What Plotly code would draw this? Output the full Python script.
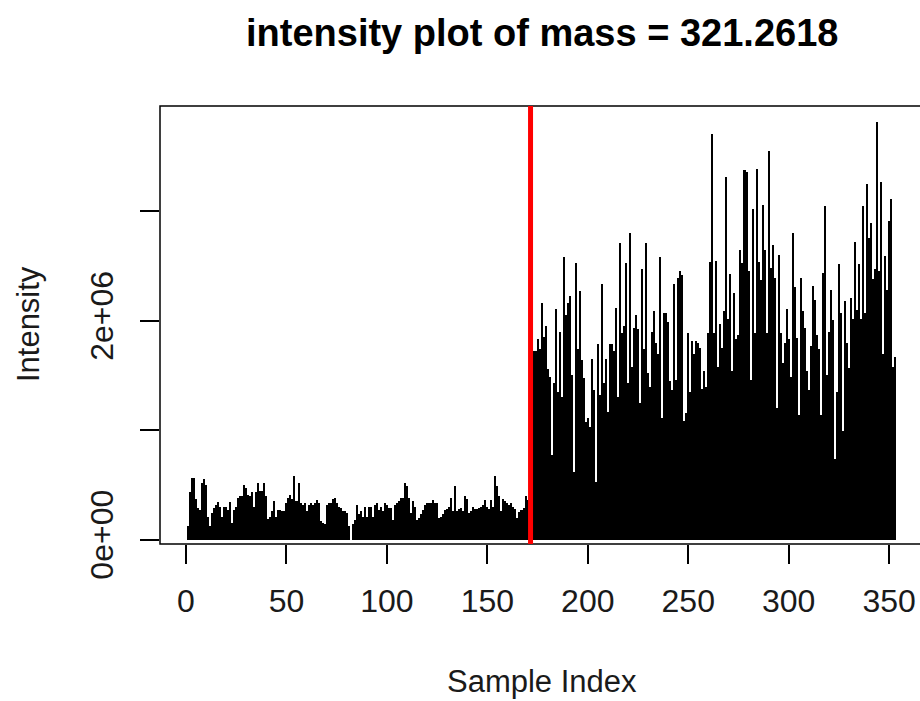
import plotly.graph_objects as go

# Intensity values (units of 1e6), by sample-index segment
intensity_001_051 = [0.12, 0.43, 0.56, 0.56, 0.37, 0.29, 0.27, 0.52, 0.55, 0.50,
                     0.21, 0.12, 0.24, 0.29, 0.32, 0.34, 0.30, 0.21, 0.30, 0.30,
                     0.27, 0.34, 0.15, 0.27, 0.30, 0.38, 0.40, 0.40, 0.50, 0.47,
                     0.41, 0.40, 0.43, 0.30, 0.43, 0.52, 0.44, 0.44, 0.52, 0.40,
                     0.19, 0.21, 0.26, 0.35, 0.21, 0.27, 0.27, 0.26, 0.26, 0.33,
                     0.38]
intensity_052_108 = [0.41, 0.37, 0.58, 0.35, 0.52, 0.33, 0.32, 0.33, 0.26, 0.32,
                     0.33, 0.32, 0.33, 0.36, 0.33, 0.17, 0.15, 0.14, 0.32, 0.33,
                     0.33, 0.37, 0.38, 0.33, 0.30, 0.29, 0.26, 0.26, 0.24, 0.12,
                     None, 0.14, 0.18, 0.32, 0.23, 0.26, 0.21, 0.30, 0.21, 0.30,
                     0.30, 0.21, 0.32, 0.33, 0.27, 0.30, 0.26, 0.33, 0.32, 0.29,
                     0.29, 0.18, 0.32, 0.33, 0.35, 0.38, 0.38]
intensity_109_169 = [0.52, 0.49, 0.38, 0.24, 0.35, 0.30, 0.18, 0.20, 0.23, 0.27,
                     0.32, 0.33, 0.33, 0.33, 0.36, 0.33, 0.33, 0.20, 0.21, 0.23,
                     0.27, 0.28, 0.30, 0.38, 0.26, 0.49, 0.26, 0.28, 0.29, 0.26,
                     0.40, 0.37, 0.24, 0.26, 0.30, 0.28, 0.28, 0.29, 0.30, 0.32,
                     0.36, 0.30, 0.28, 0.36, 0.30, 0.58, 0.49, 0.40, 0.26, 0.37,
                     0.35, 0.33, 0.32, 0.33, 0.30, 0.28, 0.20, 0.25, 0.27, 0.29,
                     0.40]
intensity_170_172 = [0.36, 0.30, 1.70]
intensity_173_216 = [1.72, 1.72, 1.83, 1.74, 2.16, 1.85, 1.95, 1.56, 1.49, 0.77,
                     1.43, 2.11, 1.35, 1.90, 1.30, 2.58, 2.05, 2.16, 2.23, 1.50,
                     0.62, 2.53, 1.74, 2.27, 1.64, 1.48, 1.07, 1.11, 1.03, 1.65,
                     1.37, 0.53, 1.79, 1.32, 2.34, 1.43, 1.65, 1.17, 1.79, 1.79,
                     1.72, 2.12, 1.30, 2.71]
intensity_217_261 = [1.89, 1.95, 2.53, 1.43, 2.80, 1.58, 1.93, 2.05, 1.92, 1.25,
                     2.47, 1.74, 2.71, 1.52, 1.39, 1.90, 2.09, 1.80, 1.70, 2.58,
                     1.11, 2.07, 2.07, 1.99, 1.45, 1.37, 2.34, 1.46, 2.39, 2.45,
                     2.42, 1.08, 1.16, 1.89, 1.35, 1.81, 1.70, 1.81, 1.80, 1.75,
                     1.38, 1.54, 1.39, 1.89, 2.54]
intensity_262_306 = [3.71, 1.89, 2.55, 1.58, 1.97, 1.75, 2.09, 3.31, 2.02, 2.43,
                     1.54, 2.25, 1.83, 1.87, 2.65, 2.53, 3.38, 3.36, 2.45, 1.46,
                     3.02, 1.89, 3.39, 2.54, 2.37, 3.06, 2.65, 1.89, 3.55, 2.48,
                     2.69, 2.39, 1.20, 2.60, 1.89, 1.61, 1.80, 2.11, 1.83, 1.49,
                     2.80, 2.31, 1.84, 1.14, 2.39]
intensity_307_353 = [2.09, 1.93, 1.54, 1.37, 1.77, 2.32, 2.19, 1.87, 1.74, 1.14,
                     2.44, 3.05, 1.50, 1.90, 2.28, 2.01, 0.74, 1.35, 2.52, 2.07,
                     0.99, 2.18, 1.80, 1.57, 2.21, 2.02, 2.72, 2.10, 2.52, 2.02,
                     3.05, 2.07, 3.25, 2.76, 2.89, 2.38, 2.47, 3.82, 2.45, 3.27,
                     1.70, 2.59, 2.28, 2.91, 3.11, 1.58, 1.67]

split_index = 171.5
x_ticks = [0, 50, 100, 150, 200, 250, 300, 350]
y_ticks = [0, 1e6, 2e6, 3e6]
y_tick_labels = ["0e+00", "", "2e+06", ""]

intensity_millions = (intensity_001_051 + intensity_052_108 + intensity_109_169 +
                      intensity_170_172 + intensity_173_216 + intensity_217_261 +
                      intensity_262_306 + intensity_307_353)
intensity = [v * 1e6 if v is not None else None for v in intensity_millions]
sample_index = list(range(1, len(intensity) + 1))

FONT = "Liberation Sans, Arial, sans-serif"

fig = go.Figure()
fig.add_trace(go.Bar(
    x=sample_index, y=intensity, width=1.0,
    marker=dict(color="black", line=dict(width=0)),
    hoverinfo="x+y",
))

fig.update_layout(
    width=920, height=701,
    margin=dict(l=160, r=0, t=106, b=157, pad=0),
    plot_bgcolor="white", paper_bgcolor="white",
    showlegend=False, bargap=0,
    xaxis=dict(
        range=[-12.94, 365.36], tickmode="array", tickvals=x_ticks,
        ticks="outside", ticklen=19, tickwidth=1.5, tickcolor="black",
        showgrid=False, zeroline=False, showline=False,
        tickfont=dict(family=FONT, size=32, color="#1a1a1a"),
        ticklabelstandoff=10,
    ),
    yaxis=dict(
        range=[-41100, 3962500], tickmode="array", tickvals=y_ticks,
        ticktext=y_tick_labels, tickangle=-90,
        ticks="outside", ticklen=19, tickwidth=1.5, tickcolor="black",
        showgrid=False, zeroline=False, showline=False,
        tickfont=dict(family=FONT, size=32, color="#1a1a1a"),
        ticklabelstandoff=14,
    ),
    shapes=[
        dict(type="rect", xref="paper", yref="paper", x0=0, x1=1.05, y0=0, y1=1,
             line=dict(color="black", width=1.5), fillcolor="rgba(0,0,0,0)", layer="above"),
        dict(type="line", xref="x", yref="paper", x0=split_index, x1=split_index, y0=0, y1=1,
             line=dict(color="red", width=5), layer="above"),
    ],
    annotations=[
        dict(text="<b>intensity plot of mass = 321.2618</b>", xref="paper", yref="paper",
             x=0.5022, y=1.166, xanchor="center", yanchor="middle", showarrow=False,
             font=dict(family=FONT, size=38, color="black")),
        dict(text="Sample Index", xref="paper", yref="paper",
             x=0.5022, y=-0.315, xanchor="center", yanchor="middle", showarrow=False,
             font=dict(family=FONT, size=31, color="#1a1a1a")),
        dict(text="Intensity", xref="paper", yref="paper", textangle=-90,
             x=-0.173, y=0.501, xanchor="center", yanchor="middle", showarrow=False,
             font=dict(family=FONT, size=31, color="#1a1a1a")),
    ],
)

fig.write_html("out.html")
